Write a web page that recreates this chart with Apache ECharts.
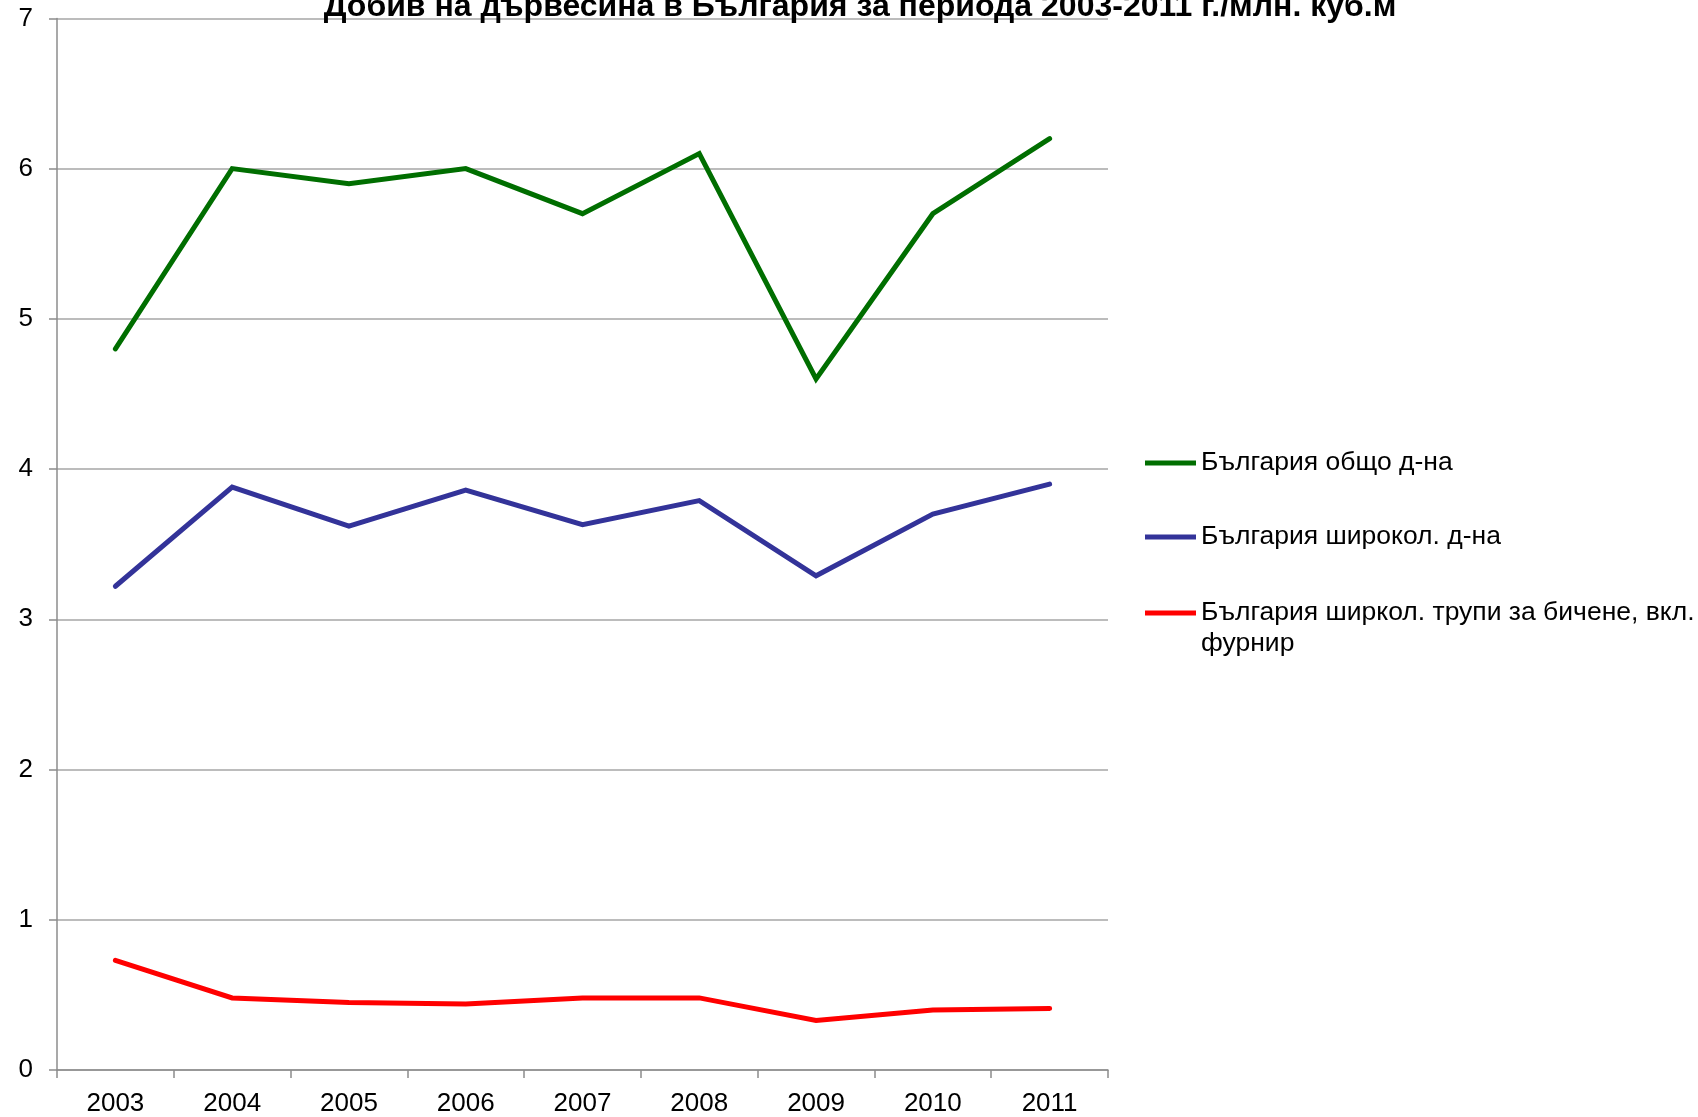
<!DOCTYPE html>
<html>
<head>
<meta charset="utf-8">
<script src="https://cdn.jsdelivr.net/npm/echarts@6/dist/echarts.min.js"></script>
<style>
  html, body { margin: 0; padding: 0; background: #fff; }
  #chart { width: 1698px; height: 1117px; }
</style>
</head>
<body>
<div id="chart"></div>
<script>
// Timber harvest in Bulgaria, 2003-2011, million cubic metres
const years = ['2003', '2004', '2005', '2006', '2007', '2008', '2009', '2010', '2011'];
const totalHarvest = [4.8, 6.0, 5.9, 6.0, 5.7, 6.1, 4.6, 5.7, 6.2];
const broadleafHarvest = [3.22, 3.88, 3.62, 3.86, 3.63, 3.79, 3.29, 3.70, 3.90];
const broadleafSawlogs = [0.73, 0.48, 0.45, 0.44, 0.48, 0.48, 0.33, 0.40, 0.41];
const yTicks = [0, 1, 2, 3, 4, 5, 6, 7];

const seriesNames = [
  'България общо д-на',
  'България широкол. д-на',
  'България ширкол. трупи за бичене, вкл.\nфурнир'
];
const seriesColors = ['#006e00', '#333399', '#ff0000'];
const seriesData = [totalHarvest, broadleafHarvest, broadleafSawlogs];

const FONT = '"Liberation Sans", Arial, sans-serif';

// one legend block per series so each can be placed on its own row
function legendFor(i, top, formatter) {
  const opt = {
    data: [seriesNames[i]],
    left: 1145,
    top: top,
    orient: 'vertical',
    padding: 0,
    itemWidth: 51,
    itemHeight: 14,
    itemGap: 0,
    icon: 'path://M0,4.5 L51,4.5 L51,9.5 L0,9.5 Z',
    textStyle: {
      fontFamily: FONT,
      fontSize: 26.5,
      lineHeight: 31,
      color: '#000'
    }
  };
  if (formatter) opt.formatter = formatter;
  return opt;
}

const chart = echarts.init(document.getElementById('chart'), null, { renderer: 'canvas' });
chart.setOption({
  backgroundColor: '#ffffff',
  animation: false,
  title: {
    text: 'Добив на дървесина в България за периода 2003-2011 г./млн. куб.м',
    left: 860,
    textAlign: 'center',
    top: -9,
    padding: 0,
    textStyle: {
      fontFamily: FONT,
      fontSize: 32,
      fontWeight: 'bold',
      color: '#000'
    }
  },
  legend: [
    legendFor(0, 447.5),
    legendFor(1, 521.5),
    // a blank first row keeps the first text line level with the swatch
    legendFor(2, 566.5, name => '\u200b\n' + name)
  ],
  grid: {
    left: 57,
    right: 590,
    top: 18.4,
    bottom: 47,
    containLabel: false
  },
  xAxis: {
    type: 'category',
    data: years,
    boundaryGap: true,
    axisLine: { show: true, lineStyle: { color: '#8c8c8c', width: 1.5 } },
    axisTick: { show: true, alignWithLabel: false, length: 8, inside: false, lineStyle: { color: '#8c8c8c', width: 1.5 } },
    axisLabel: {
      margin: 21,
      fontFamily: FONT,
      fontSize: 26,
      color: '#000'
    },
    splitLine: { show: false }
  },
  yAxis: {
    type: 'value',
    min: yTicks[0],
    max: yTicks[yTicks.length - 1],
    interval: 1,
    axisLine: { show: true, lineStyle: { color: '#8c8c8c', width: 1.5 } },
    axisTick: { show: true, length: 8, lineStyle: { color: '#8c8c8c', width: 1.5 } },
    axisLabel: {
      margin: 24,
      fontFamily: FONT,
      fontSize: 26,
      color: '#000'
    },
    splitLine: { show: true, lineStyle: { color: '#a6a6a6', width: 1.5 } }
  },
  series: seriesData.map((d, i) => ({
    name: seriesNames[i],
    type: 'line',
    data: d,
    symbol: 'none',
    smooth: false,
    lineStyle: { color: seriesColors[i], width: 5, cap: 'round', join: 'miter' },
    itemStyle: { color: seriesColors[i] },
    z: 3 - i
  }))
});
</script>
</body>
</html>
